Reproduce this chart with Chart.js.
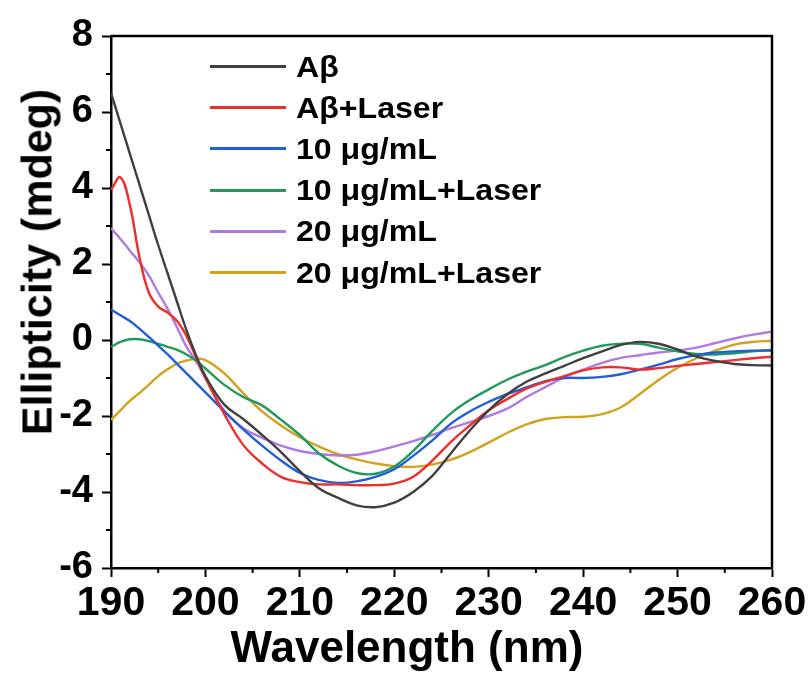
<!DOCTYPE html>
<html>
<head>
<meta charset="utf-8">
<script src="https://cdn.jsdelivr.net/npm/chart.js@4.4.1/dist/chart.umd.min.js"></script>
<style>
  html, body { margin: 0; padding: 0; background: #ffffff; }
  #wrap { position: relative; width: 812px; height: 677px; overflow: hidden; }
  #c { position: absolute; left: 0; top: 0; }
  .txt { font-family: "Liberation Sans", Arial, sans-serif; font-weight: bold; color: #000; white-space: nowrap; }
  #legend { position: absolute; left: 210px; top: 46px; font-size: 30px; }
  .row { display: flex; align-items: center; height: 41.2px; }
  .sw { width: 76px; height: 3px; margin-right: 10px; flex: none; }
  .lt { display: inline-block; transform: scaleX(1.07); transform-origin: left center; }
  #xtitle { position: absolute; left: 407px; top: 647px; font-size: 44px; line-height: 44px; transform: translate(-50%, -50%); }
  #ytitle { position: absolute; left: 37px; top: 262px; font-size: 43px; line-height: 43px; transform: translate(-50%, -50%) rotate(-90deg); }
</style>
</head>
<body>
<div id="wrap">
  <canvas id="c" width="812" height="677"></canvas>
  <div id="legend" class="txt"></div>
  <div id="xtitle" class="txt"></div>
  <div id="ytitle" class="txt"></div>
</div>
<script>
// ---- data ----
const wavelengths = [190,191,192,193,194,195,196,197,198,199,200,202,204,206,208,210,212,214,216,218,220,222,224,226,228,230,232,234,236,238,240,242,244,246,248,250,252,254,256,258,260];

const seriesLabels = ["A\u03B2", "A\u03B2+Laser", "10 \u03BCg/mL", "10 \u03BCg/mL+Laser", "20 \u03BCg/mL", "20 \u03BCg/mL+Laser"];
const seriesColors = ["#404040", "#ee2d2d", "#1f5fd8", "#23995e", "#b278e2", "#d2a21c"];

const abeta = [6.5,5.7,4.9,4.1,3.3,2.5,1.75,1.0,0.25,-0.4,-0.95,-1.7,-2.08,-2.5,-2.95,-3.45,-3.9,-4.15,-4.35,-4.4,-4.28,-4.0,-3.58,-2.98,-2.38,-1.85,-1.42,-1.1,-0.88,-0.68,-0.48,-0.3,-0.13,-0.05,-0.1,-0.25,-0.44,-0.55,-0.63,-0.66,-0.67];
const abetaLaser = [3.95,4.28,3.55,2.2,1.25,0.88,0.72,0.5,0.1,-0.45,-1.0,-1.95,-2.76,-3.25,-3.6,-3.74,-3.8,-3.8,-3.82,-3.82,-3.78,-3.6,-3.18,-2.68,-2.25,-1.85,-1.55,-1.28,-1.1,-0.95,-0.8,-0.72,-0.72,-0.78,-0.74,-0.68,-0.63,-0.58,-0.53,-0.48,-0.44];
const c10 = [0.8,0.65,0.5,0.3,0.08,-0.15,-0.38,-0.63,-0.88,-1.13,-1.38,-1.88,-2.35,-2.78,-3.17,-3.5,-3.68,-3.76,-3.72,-3.6,-3.4,-3.05,-2.65,-2.2,-1.88,-1.63,-1.42,-1.25,-1.08,-1.0,-1.0,-0.97,-0.9,-0.78,-0.65,-0.5,-0.4,-0.33,-0.3,-0.28,-0.28];
const c10Laser = [-0.18,-0.05,0.02,0.02,-0.03,-0.1,-0.18,-0.26,-0.38,-0.54,-0.75,-1.18,-1.5,-1.72,-2.1,-2.5,-2.98,-3.3,-3.5,-3.52,-3.33,-2.92,-2.4,-1.93,-1.58,-1.3,-1.04,-0.83,-0.66,-0.45,-0.28,-0.15,-0.1,-0.1,-0.2,-0.3,-0.37,-0.38,-0.35,-0.3,-0.26];
const c20 = [2.94,2.66,2.35,2.05,1.7,1.25,0.82,0.33,-0.18,-0.55,-1.0,-1.86,-2.32,-2.57,-2.78,-2.92,-3.0,-3.04,-3.02,-2.93,-2.8,-2.66,-2.5,-2.32,-2.16,-2.0,-1.8,-1.5,-1.24,-0.98,-0.78,-0.6,-0.47,-0.4,-0.33,-0.28,-0.2,-0.08,0.04,0.14,0.22];
const c20Laser = [-2.1,-1.85,-1.6,-1.4,-1.18,-0.95,-0.77,-0.62,-0.54,-0.5,-0.53,-0.88,-1.4,-1.88,-2.25,-2.56,-2.8,-3.0,-3.14,-3.25,-3.32,-3.34,-3.28,-3.15,-2.95,-2.7,-2.44,-2.22,-2.08,-2.03,-2.02,-1.95,-1.77,-1.42,-1.05,-0.73,-0.48,-0.28,-0.12,-0.05,-0.02];

const allSeries = [abeta, abetaLaser, c10, c10Laser, c20, c20Laser];

const xTicks = [190,200,210,220,230,240,250,260];
const yTicks = [-6,-4,-2,0,2,4,6,8];
const xTitle = "Wavelength (nm)";
const yTitle = "Ellipticity (mdeg)";

// ---- build chart ----
const FONT = '"Liberation Sans", Arial, sans-serif';

const datasets = allSeries.map((vals, i) => ({
  label: seriesLabels[i],
  data: wavelengths.map((w, j) => ({ x: w, y: vals[j] })),
  borderColor: seriesColors[i],
  backgroundColor: seriesColors[i],
  borderWidth: 2.4,
  pointRadius: 0,
  tension: 0.4,
  fill: false
}));

const frameAndMinor = {
  id: 'frameAndMinor',
  afterDraw(chart) {
    const { ctx, chartArea: a, scales } = chart;
    ctx.save();
    ctx.strokeStyle = '#000';
    ctx.lineWidth = 2.5;
    ctx.beginPath();
    ctx.moveTo(a.left, a.top);
    ctx.lineTo(a.right, a.top);
    ctx.lineTo(a.right, a.bottom);
    ctx.stroke();
    ctx.lineWidth = 2;
    ctx.beginPath();
    for (let i = 0; i < xTicks.length - 1; i++) {
      const px = scales.x.getPixelForValue((xTicks[i] + xTicks[i + 1]) / 2);
      ctx.moveTo(px, a.bottom);
      ctx.lineTo(px, a.bottom + 5);
    }
    for (let i = 0; i < yTicks.length - 1; i++) {
      const py = scales.y.getPixelForValue((yTicks[i] + yTicks[i + 1]) / 2);
      ctx.moveTo(a.left, py);
      ctx.lineTo(a.left - 5, py);
    }
    ctx.stroke();
    ctx.restore();
  }
};

new Chart(document.getElementById('c'), {
  type: 'line',
  data: { datasets },
  options: {
    responsive: false,
    devicePixelRatio: 1,
    animation: false,
    layout: { padding: { left: 0, right: 40, top: 36, bottom: 0 } },
    plugins: { legend: { display: false }, tooltip: { enabled: false } },
    scales: {
      x: {
        type: 'linear',
        min: 190, max: 260,
        afterBuildTicks: (s) => { s.ticks = xTicks.map(v => ({ value: v })); },
        afterFit: (s) => { s.height = 109; },
        ticks: { color: '#000', font: { family: FONT, size: 41, weight: 'bold' }, padding: 2, maxRotation: 0, autoSkip: false },
        grid: { drawOnChartArea: false, drawTicks: true, tickLength: 9, tickColor: '#000', tickWidth: 2 },
        border: { display: true, color: '#000', width: 2.5 },
        title: { display: false }
      },
      y: {
        type: 'linear',
        min: -6, max: 8,
        afterBuildTicks: (s) => { s.ticks = yTicks.map(v => ({ value: v })); },
        afterFit: (s) => { s.width = 111; },
        ticks: { color: '#000', font: { family: FONT, size: 38, weight: 'bold' }, padding: 9 },
        grid: { drawOnChartArea: false, drawTicks: true, tickLength: 9, tickColor: '#000', tickWidth: 2 },
        border: { display: true, color: '#000', width: 2.5 },
        title: { display: false }
      }
    }
  },
  plugins: [frameAndMinor]
});

// ---- axis titles and legend as HTML text ----
document.getElementById('xtitle').textContent = xTitle;
document.getElementById('ytitle').textContent = yTitle;

const legend = document.getElementById('legend');
datasets.forEach(d => {
  const row = document.createElement('div');
  row.className = 'row';
  const sw = document.createElement('span');
  sw.className = 'sw';
  sw.style.background = d.borderColor;
  const tx = document.createElement('span');
  tx.className = 'lt';
  tx.textContent = d.label;
  row.appendChild(sw);
  row.appendChild(tx);
  legend.appendChild(row);
});
</script>
</body>
</html>
